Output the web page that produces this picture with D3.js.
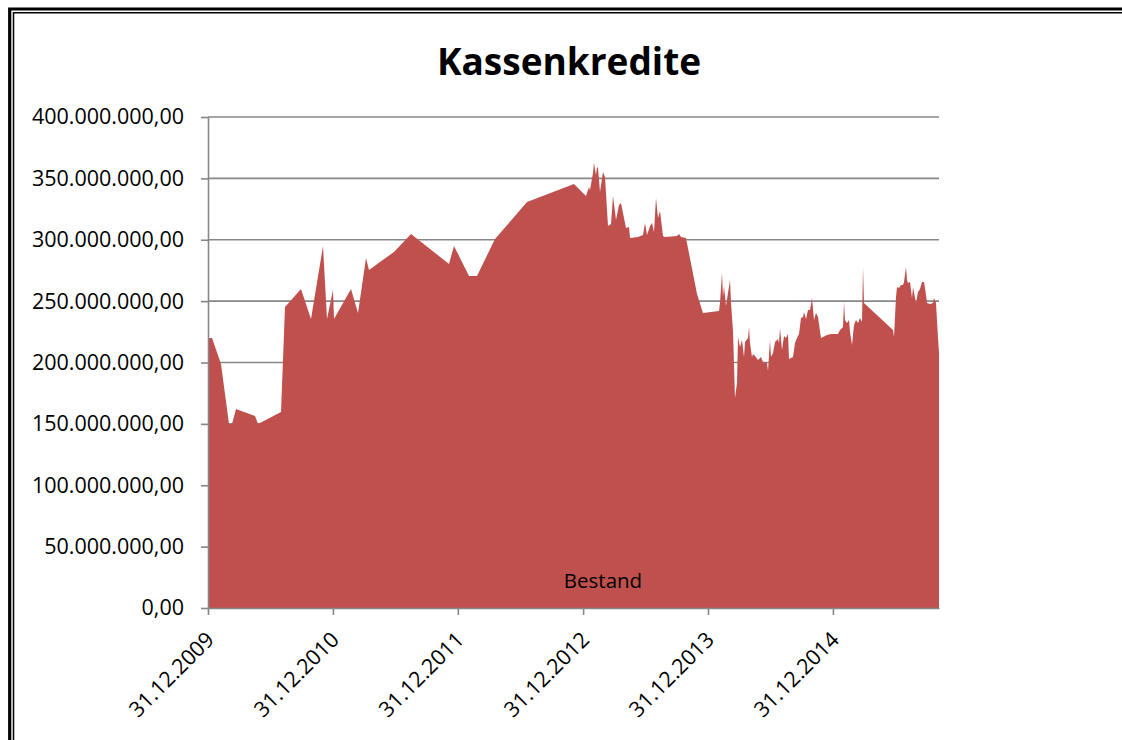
<!DOCTYPE html>
<html lang="de">
<head>
  <meta charset="utf-8">
  <title>Kassenkredite</title>
  <script src="https://d3js.org/d3.v7.min.js"></script>
  <style type="text/css">
    html, body { margin: 0; background: #fff; overflow: hidden; }
    #chart svg { display: block; }
    #chart text { font-family: "Open Sans", sans-serif; fill: #000; }
  </style>
</head>
<body>
<div id="chart"></div>
<script>
// Zeitpunkte als Dezimaljahr (2010.0 = 31.12.2009), Bestand in Mio. EUR
const years = [
  2010.000, 2010.032, 2010.104, 2010.168, 2010.192, 2010.224, 2010.376, 2010.400, 2010.584, 2010.616,
  2010.744, 2010.824, 2010.920, 2010.952, 2011.000, 2011.008, 2011.144, 2011.200, 2011.264, 2011.288,
  2011.376, 2011.488, 2011.624, 2011.928, 2011.968, 2012.088, 2012.152, 2012.296, 2012.552, 2012.928,
  2013.024, 2013.048, 2013.056, 2013.080, 2013.088, 2013.104, 2013.112, 2013.120, 2013.136, 2013.160,
  2013.176, 2013.200, 2013.224, 2013.240, 2013.264, 2013.288, 2013.304, 2013.320, 2013.344, 2013.368,
  2013.376, 2013.440, 2013.480, 2013.496, 2013.512, 2013.536, 2013.552, 2013.568, 2013.584, 2013.600,
  2013.616, 2013.640, 2013.656, 2013.752, 2013.768, 2013.784, 2013.824, 2013.912, 2013.960, 2014.088,
  2014.096, 2014.112, 2014.120, 2014.128, 2014.144, 2014.160, 2014.176, 2014.184, 2014.200, 2014.216,
  2014.232, 2014.240, 2014.256, 2014.272, 2014.288, 2014.296, 2014.320, 2014.328, 2014.336, 2014.352,
  2014.360, 2014.376, 2014.400, 2014.424, 2014.440, 2014.472, 2014.480, 2014.496, 2014.504, 2014.520,
  2014.536, 2014.560, 2014.568, 2014.576, 2014.592, 2014.608, 2014.624, 2014.640, 2014.648, 2014.680,
  2014.696, 2014.712, 2014.728, 2014.744, 2014.760, 2014.768, 2014.784, 2014.800, 2014.816, 2014.832,
  2014.848, 2014.864, 2014.880, 2014.904, 2014.952, 2014.984, 2015.040, 2015.056, 2015.080, 2015.088,
  2015.096, 2015.112, 2015.128, 2015.136, 2015.152, 2015.168, 2015.184, 2015.200, 2015.216, 2015.232,
  2015.240, 2015.248, 2015.480, 2015.488, 2015.504, 2015.512, 2015.528, 2015.544, 2015.560, 2015.568,
  2015.584, 2015.592, 2015.600, 2015.616, 2015.632, 2015.640, 2015.664, 2015.680, 2015.696, 2015.712,
  2015.728, 2015.744, 2015.752, 2015.776, 2015.800, 2015.808, 2015.824, 2015.840, 2015.848
];
const bestand = [
  220.0, 220.0, 198.8, 149.9, 149.9, 162.1, 156.4, 149.9, 159.7, 245.2,
  259.9, 235.4, 294.9, 235.4, 259.1, 235.4, 259.9, 240.3, 285.1, 275.4,
  281.9, 290.0, 304.7, 280.3, 294.9, 270.5, 270.5, 300.6, 330.8, 345.4,
  335.7, 343.0, 340.5, 354.4, 362.5, 352.8, 359.3, 358.5, 338.9, 355.2,
  351.1, 311.2, 312.8, 335.7, 316.1, 328.3, 330.0, 321.8, 309.6, 310.4,
  301.4, 302.3, 303.9, 313.7, 303.9, 311.2, 313.7, 306.3, 334.0, 317.7,
  323.4, 303.1, 302.3, 303.1, 304.7, 302.3, 301.4, 255.8, 240.3, 242.0,
  248.5, 272.9, 253.4, 262.3, 246.0, 256.6, 267.2, 248.5, 225.7, 171.1,
  183.3, 220.8, 212.6, 218.3, 204.5, 216.7, 220.0, 228.9, 215.9, 204.5,
  206.9, 205.3, 202.0, 204.5, 200.4, 199.6, 193.1, 218.3, 204.5, 207.7,
  216.7, 219.2, 215.9, 228.1, 210.2, 221.6, 220.0, 223.2, 202.9, 204.5,
  215.9, 220.0, 223.2, 236.3, 237.1, 241.2, 235.4, 242.8, 242.8, 252.6,
  234.6, 240.3, 237.1, 220.0, 222.4, 223.2, 223.2, 226.5, 228.9, 249.3,
  234.6, 232.2, 234.6, 224.9, 214.3, 230.6, 234.6, 232.2, 236.3, 233.0,
  277.8, 248.5, 226.5, 220.8, 253.4, 261.5, 260.7, 263.1, 263.1, 265.6,
  277.8, 267.2, 264.8, 265.6, 252.6, 261.5, 248.5, 257.4, 259.9, 265.6,
  265.6, 255.0, 248.5, 247.7, 248.5, 252.6, 248.5, 220.0, 207.7
];
const yTicks = [0, 50e6, 100e6, 150e6, 200e6, 250e6, 300e6, 350e6, 400e6];
const xTickYears = [2009, 2010, 2011, 2012, 2013, 2014];
const seriesName = "Bestand";
const title = "Kassenkredite";

const W = 1122, H = 740;
const plotLeft = 208, plotRight = 939, plotTop = 117, plotBottom = 608;

const base = Date.UTC(2009, 11, 31);
const day = 86400000;
const toDate = yr => new Date(base + (yr - 2010) * 365.25 * day);
const data = years.map((yr, i) => ({ date: toDate(yr), value: bestand[i] * 1e6 }));

const de = d3.formatLocale({ decimal: ",", thousands: ".", grouping: [3], currency: ["", " €"] });
const fmt = de.format(",.2f");

const svg = d3.select("#chart")
  .append("svg")
  .attr("width", W)
  .attr("height", H);

svg.append("rect").attr("width", W).attr("height", H).attr("fill", "#fff");

// doppelter Rahmen: nur oben und links sichtbar
const frame = svg.append("g").attr("stroke", "#000").attr("fill", "none");
frame.append("path")
  .attr("d", `M9.7,${H + 10}V9H${W + 10}`)
  .attr("stroke-width", 3.2);
frame.append("path")
  .attr("d", `M13.5,${H + 10}V12.8H${W + 10}`)
  .attr("stroke-width", 1.5);

const x = d3.scaleUtc()
  .domain([data[0].date, data[data.length - 1].date])
  .range([plotLeft, plotRight]);
const y = d3.scaleLinear()
  .domain([0, 400e6])
  .range([plotBottom, plotTop]);

// Gitternetz
svg.append("g")
  .selectAll("line")
  .data(yTicks.slice(1))
  .join("line")
  .attr("x1", plotLeft).attr("x2", plotRight)
  .attr("y1", d => y(d)).attr("y2", d => y(d))
  .attr("stroke", "#878787")
  .attr("stroke-width", 1.6);

const area = d3.area()
  .x(d => x(d.date))
  .y0(y(0))
  .y1(d => y(d.value));

svg.append("path")
  .datum(data)
  .attr("d", area)
  .attr("fill", "#C0504D");

// Achsen
const yAxis = svg.append("g")
  .attr("transform", `translate(${plotLeft},0)`)
  .call(d3.axisLeft(y).tickValues(yTicks).tickFormat(fmt).tickSize(7).tickPadding(17).tickSizeOuter(0));
yAxis.selectAll("line, path").attr("stroke", "#878787").attr("stroke-width", 1.6);
yAxis.selectAll("text").attr("font-size", 21.5);

const xTicks = xTickYears.map(yr => new Date(Date.UTC(yr, 11, 31)));
const xAxis = svg.append("g")
  .attr("transform", `translate(0,${plotBottom})`)
  .call(d3.axisBottom(x).tickValues(xTicks).tickFormat(d3.utcFormat("%d.%m.%Y")).tickSize(7).tickSizeOuter(0));
xAxis.selectAll("line, path").attr("stroke", "#878787").attr("stroke-width", 1.6);
xAxis.selectAll("text")
  .attr("font-size", 21.5)
  .attr("text-anchor", "end")
  .attr("dy", null)
  .attr("y", null)
  .attr("transform", "translate(7,33) rotate(-45)");

svg.append("text")
  .attr("x", 569).attr("y", 75)
  .attr("text-anchor", "middle")
  .attr("font-size", 37)
  .attr("font-weight", "bold")
  .text(title);

svg.append("text")
  .attr("x", 603).attr("y", 588)
  .attr("text-anchor", "middle")
  .attr("font-size", 20.5)
  .text(seriesName);
</script>
</body>
</html>
